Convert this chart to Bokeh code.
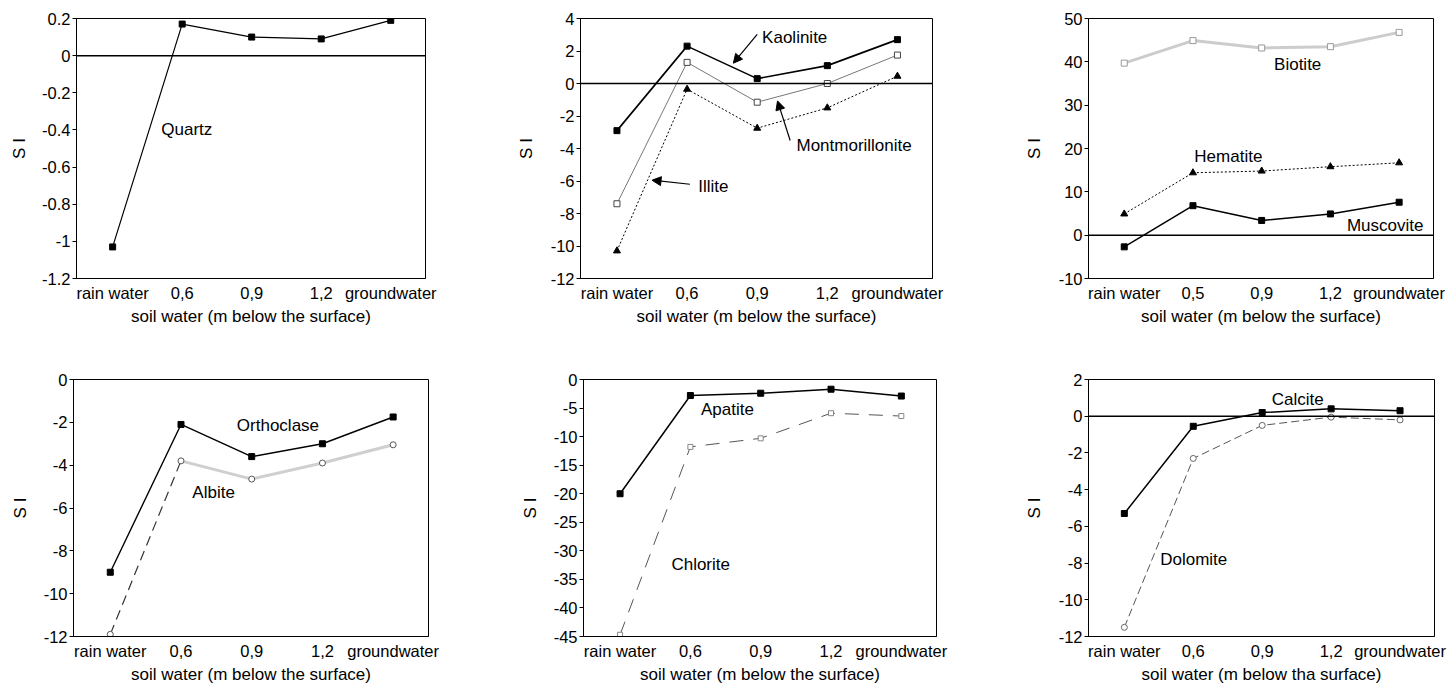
from bokeh.plotting import figure
from bokeh.layouts import column, row
from bokeh.models import Range1d, FixedTicker, Span, Label, Arrow, NormalHead
from bokeh.embed import file_html
from bokeh.resources import INLINE

# ---------------- data ----------------
x_pos = [0, 1, 2, 3, 4]
depth_labels_a = ["rain water", "0,6", "0,9", "1,2", "groundwater"]
depth_labels_b = ["rain water", "0,5", "0,9", "1,2", "groundwater"]
x_title = "soil water (m below the surface)"
x_title_tha = "soil water (m below tha surface)"
y_title = "S I"

quartz = [-1.03, 0.17, 0.10, 0.09, 0.19]
kaolinite = [-2.9, 2.3, 0.3, 1.1, 2.7]
montmorillonite = [-7.4, 1.3, -1.15, 0.0, 1.75]
illite = [-10.3, -0.35, -2.75, -1.5, 0.45]
biotite = [39.7, 44.9, 43.2, 43.5, 46.8]
hematite = [4.9, 14.4, 14.8, 15.8, 16.7]
muscovite = [-2.7, 6.8, 3.4, 4.9, 7.6]
orthoclase = [-9.0, -2.1, -3.6, -3.0, -1.75]
albite = [-11.9, -3.8, -4.65, -3.9, -3.05]
apatite = [-20.0, -2.8, -2.4, -1.7, -2.9]
chlorite = [-44.7, -11.8, -10.3, -5.9, -6.4]
calcite = [-5.3, -0.55, 0.2, 0.4, 0.3]
dolomite = [-11.5, -2.3, -0.5, -0.05, -0.2]

y_ticks_1 = [0.2, 0.0, -0.2, -0.4, -0.6, -0.8, -1.0, -1.2]
y_labels_1 = ["0.2", "0", "-0.2", "-0.4", "-0.6", "-0.8", "-1", "-1.2"]
y_ticks_2 = [4, 2, 0, -2, -4, -6, -8, -10, -12]
y_labels_2 = ["4", "2", "0", "-2", "-4", "-6", "-8", "-10", "-12"]
y_ticks_3 = [50, 40, 30, 20, 10, 0, -10]
y_labels_3 = ["50", "40", "30", "20", "10", "0", "-10"]
y_ticks_4 = [0, -2, -4, -6, -8, -10, -12]
y_labels_4 = ["0", "-2", "-4", "-6", "-8", "-10", "-12"]
y_ticks_5 = [0, -5, -10, -15, -20, -25, -30, -35, -40, -45]
y_labels_5 = ["0", "-5", "-10", "-15", "-20", "-25", "-30", "-35", "-40", "-45"]
y_ticks_6 = [2, 0, -2, -4, -6, -8, -10, -12]
y_labels_6 = ["2", "0", "-2", "-4", "-6", "-8", "-10", "-12"]

FONT = "Liberation Sans"
FS_TICK = "16.5px"
FS_TEXT = "17px"


def panel(width, height, bl, br, bt, bb, ymin, ymax, yticks, ylabels,
          xlabels, xtitle, ystand, zero_line):
    p = figure(width=width, height=height, output_backend="svg",
               toolbar_location=None, x_range=Range1d(-0.52, 4.5),
               y_range=Range1d(ymin, ymax),
               min_border_left=bl, min_border_right=br,
               min_border_top=bt, min_border_bottom=bb)
    p.xgrid.visible = False
    p.ygrid.visible = False
    p.outline_line_color = "black"
    p.outline_line_width = 1
    p.background_fill_color = "white"
    p.border_fill_color = "white"

    xa = p.xaxis[0]
    xa.ticker = FixedTicker(ticks=x_pos)
    xa.major_label_overrides = {i: s for i, s in zip(x_pos, xlabels)}
    xa.major_tick_out = 0
    xa.major_tick_in = 0
    xa.minor_tick_out = 0
    xa.minor_tick_in = 0
    xa.major_label_standoff = 5
    xa.axis_label = xtitle
    xa.axis_label_standoff = 2
    ya = p.yaxis[0]
    ya.ticker = FixedTicker(ticks=yticks)
    ya.major_label_overrides = {t: s for t, s in zip(yticks, ylabels)}
    ya.major_tick_out = 4
    ya.major_tick_in = 0
    ya.minor_tick_out = 0
    ya.minor_tick_in = 0
    ya.major_label_standoff = 2
    ya.axis_label = y_title
    ya.axis_label_standoff = ystand
    for a in (xa, ya):
        a.axis_line_color = "black"
        a.major_tick_line_color = "black"
        a.major_label_text_font = FONT
        a.major_label_text_font_size = FS_TICK
        a.major_label_text_color = "black"
        a.axis_label_text_font = FONT
        a.axis_label_text_font_size = FS_TEXT
        a.axis_label_text_font_style = "normal"
        a.axis_label_text_color = "black"
    if zero_line:
        p.add_layout(Span(location=0, dimension="width", line_color="black",
                          line_width=1.5))
    return p


def lab(p, x, y, text):
    p.add_layout(Label(x=x, y=y, text=text, text_font=FONT,
                       text_font_size=FS_TEXT, text_color="black",
                       text_baseline="middle", text_align="left"))


def arrow(p, x0, y0, x1, y1):
    p.add_layout(Arrow(end=NormalHead(size=9, fill_color="black",
                                      line_color="black"),
                       x_start=x0, y_start=y0, x_end=x1, y_end=y1,
                       line_color="black", line_width=1.2))


# ---- Panel 1: Quartz
p1 = panel(488, 340, 76, 63, 16, 62, -1.2, 0.2, y_ticks_1, y_labels_1,
           depth_labels_a, x_title, 10, True)
p1.line(x_pos, quartz, line_color="black", line_width=1.2)
p1.scatter(x_pos, quartz, marker="square", size=6, color="black")
lab(p1, 0.7, -0.40, "Quartz")

# ---- Panel 2: clay minerals
p2 = panel(480, 340, 92, 36, 17, 61, -12, 4, y_ticks_2, y_labels_2,
           depth_labels_a, x_title, 12, True)
p2.line(x_pos, kaolinite, line_color="black", line_width=1.6)
p2.scatter(x_pos, kaolinite, marker="square", size=6, color="black")
p2.line(x_pos, montmorillonite, line_color="#777777", line_width=1)
p2.scatter(x_pos, montmorillonite, marker="square", size=6,
           fill_color="white", line_color="#444444")
p2.line(x_pos, illite, line_color="black", line_width=1, line_dash="2 2")
p2.scatter(x_pos, illite, marker="triangle", size=7, color="black")
lab(p2, 2.07, 2.84, "Kaolinite")
arrow(p2, 2.0, 3.02, 1.66, 1.25)
lab(p2, 2.56, -3.82, "Montmorillonite")
arrow(p2, 2.47, -3.51, 2.29, -1.07)
lab(p2, 1.16, -6.32, "Illite")
arrow(p2, 1.04, -6.2, 0.5, -5.95)

# ---- Panel 3: micas / oxide
p3 = panel(482, 340, 120, 17, 18, 59, -10, 50, y_ticks_3, y_labels_3,
           depth_labels_b, x_title, 12, True)
p3.line(x_pos, biotite, line_color="#cccccc", line_width=3)
p3.scatter(x_pos, biotite, marker="square", size=6, fill_color="white",
           line_color="#999999")
p3.line(x_pos, hematite, line_color="black", line_width=1, line_dash="2 2")
p3.scatter(x_pos, hematite, marker="triangle", size=7, color="black")
p3.line(x_pos, muscovite, line_color="black", line_width=1.5)
p3.scatter(x_pos, muscovite, marker="square", size=6, color="black")
lab(p3, 2.18, 39.5, "Biotite")
lab(p3, 1.02, 18.1, "Hematite")
lab(p3, 3.24, 2.3, "Muscovite")

# ---- Panel 4: feldspars
p4 = panel(488, 346, 73, 60, 37, 47, -12, 0, y_ticks_4, y_labels_4,
           depth_labels_a, x_title, 11, False)
p4.line(x_pos[1:], albite[1:], line_color="#cfcfcf", line_width=3)
p4.line(x_pos[:2], albite[:2], line_color="#333333", line_width=1.2,
        line_dash="10 6")
p4.scatter(x_pos, albite, marker="circle", size=6, fill_color="white",
           line_color="#555555")
p4.line(x_pos, orthoclase, line_color="black", line_width=1.4)
p4.scatter(x_pos, orthoclase, marker="square", size=6, color="black")
lab(p4, 1.79, -2.15, "Orthoclase")
lab(p4, 1.16, -5.27, "Albite")

# ---- Panel 5: apatite / chlorite
p5 = panel(480, 346, 95, 32, 38, 47, -45, 0, y_ticks_5, y_labels_5,
           depth_labels_a, x_title, 11, False)
p5.line(x_pos, chlorite, line_color="#555555", line_width=1,
        line_dash="14 10")
p5.scatter(x_pos, chlorite, marker="square", size=5, fill_color="white",
           line_color="#888888")
p5.line(x_pos, apatite, line_color="black", line_width=1.5)
p5.scatter(x_pos, apatite, marker="square", size=6, color="black")
lab(p5, 1.15, -5.17, "Apatite")
lab(p5, 0.73, -32.4, "Chlorite")

# ---- Panel 6: carbonates
p6 = panel(482, 346, 120, 16, 39, 46, -12, 2, y_ticks_6, y_labels_6,
           depth_labels_a, x_title_tha, 12, True)
p6.line(x_pos, dolomite, line_color="#555555", line_width=1,
        line_dash="8 4")
p6.scatter(x_pos, dolomite, marker="circle", size=6, fill_color="white",
           line_color="#666666")
p6.line(x_pos, calcite, line_color="black", line_width=1.5)
p6.scatter(x_pos, calcite, marker="square", size=6, color="black")
lab(p6, 2.14, 0.93, "Calcite")
lab(p6, 0.52, -7.82, "Dolomite")

layout = column(row(p1, p2, p3, spacing=0), row(p4, p5, p6, spacing=0),
                spacing=0)

open("out.html", "w").write(file_html(layout, INLINE))
